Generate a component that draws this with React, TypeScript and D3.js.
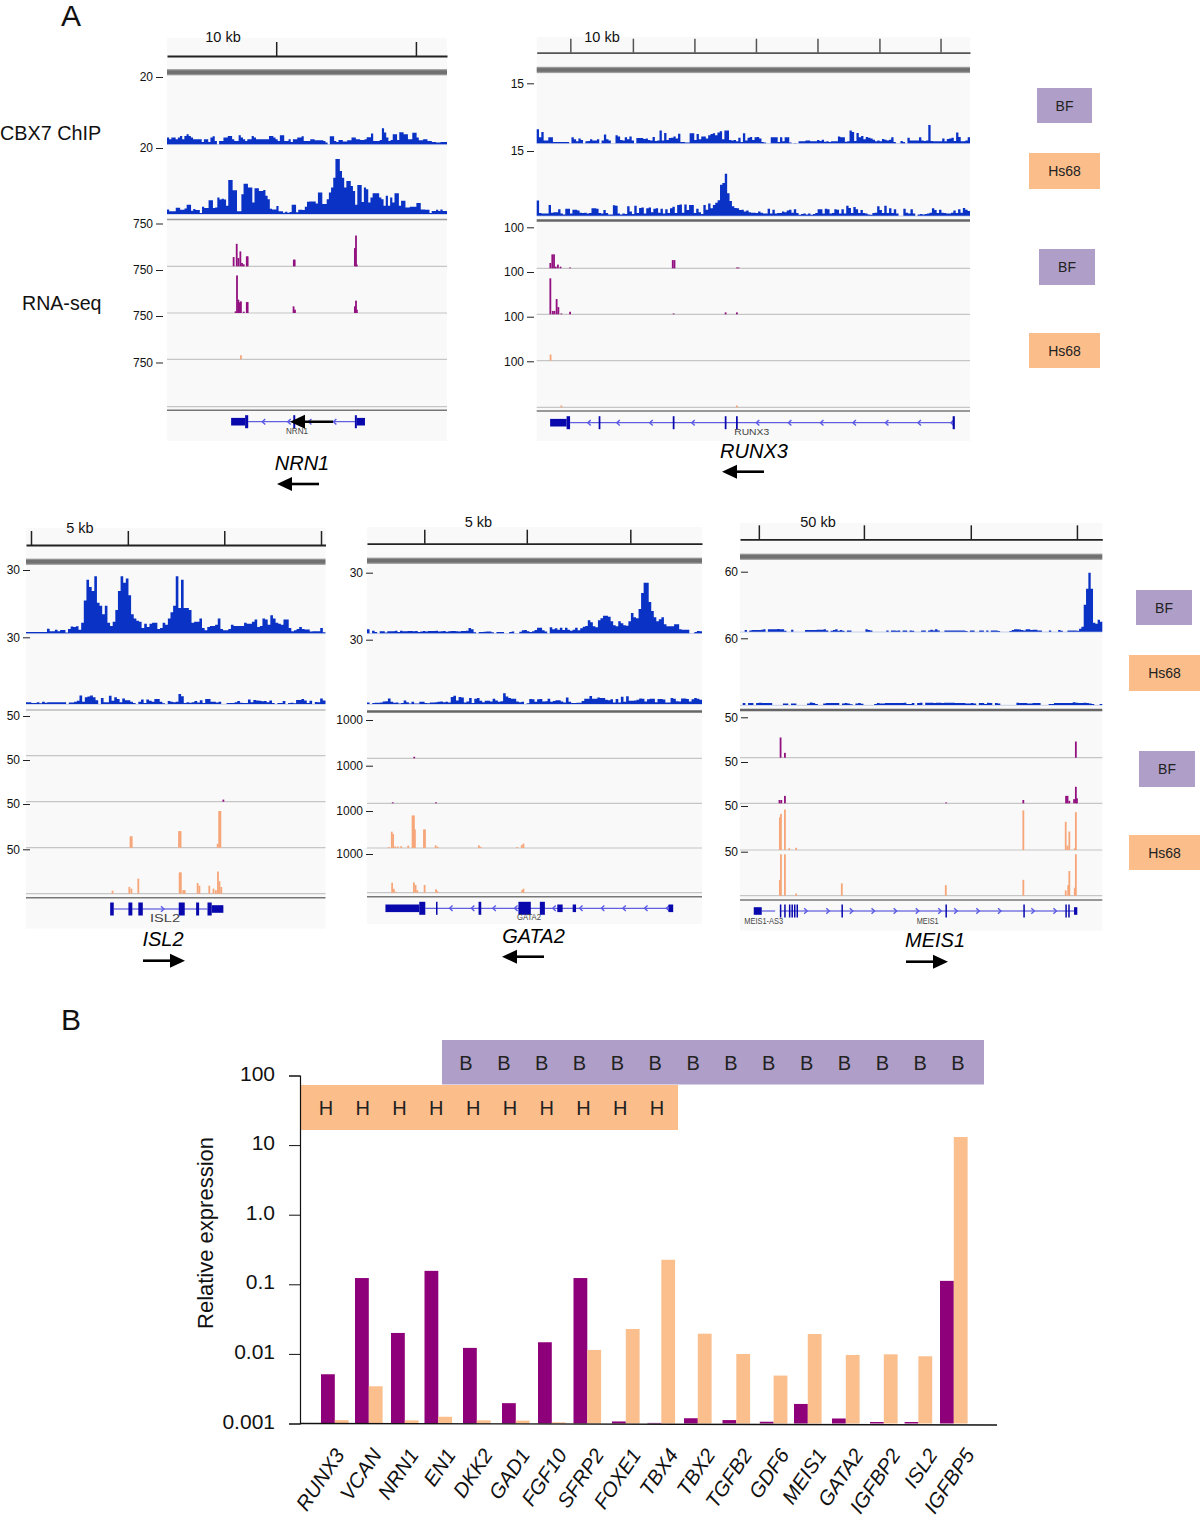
import React, { useEffect, useRef } from 'react';
import * as d3 from 'd3';

const FONT = '"Liberation Sans", Arial, sans-serif';
const BLUE = '#0a33c6';
const PURPLE = '#92107f';
const ORANGE = '#f6a679';
const GENE = '#0808ac';
const CHEVRON = '#5a5ae8';
const BOX_PURPLE = '#af9fc8';
const BOX_ORANGE = '#fbbd8a';

// ---- ChIP coverage, one value per bin ----
const nrn1Bf = [2, 1.5, 2, 2, 1.5, 2, 2.5, 1.5, 2.5, 3, 2.5, 2, 1.5, 1.5, 1.5, 1.5, 0.7, 1.5, 1.5, 0.7, 2, 2.4, 1, 0, 1, 1, 2, 2, 2.5, 2.5, 1.5, 1, 1, 2.7, 2, 1.5, 1, 1.5, 1.5, 2.5, 2, 1.5, 1.5, 1.5, 1.5, 1.5, 1.5, 2.5, 2.5, 2, 1.5, 1, 2.7, 2.7, 1, 1, 1.5, 0.7, 1.5, 1.5, 2, 2, 2.4, 1, 1, 1, 1.5, 1.5, 1.2, 1.2, 1.2, 1.2, 1, 0.5, 0, 2.4, 2.4, 1, 0.7, 1.3, 1.3, 0.8, 0.8, 1.2, 1.2, 2, 2, 1.5, 1.5, 1.3, 1.3, 1.5, 2.1, 2.1, 3.2, 1, 1, 1, 1.3, 4.8, 3.5, 2, 1, 1.3, 3, 3, 1.3, 3.6, 3.6, 3, 3, 1.5, 1.5, 3.4, 3.4, 2, 1.2, 1.2, 1.5, 1.5, 1, 1, 0.7, 0.7, 0.5, 0.5, 0.7, 0.7, 0.7];
const nrn1Hs = [1.4, 0.8, 0.8, 0.8, 1.9, 1.9, 1.3, 1.3, 1.7, 2.8, 2.8, 1, 1.5, 1.2, 1.2, 0.3, 2.2, 1.8, 1.8, 4.2, 4.2, 1.8, 2, 5, 4.4, 4.6, 4.4, 2.5, 10.3, 10.3, 7.2, 7.2, 0.8, 0.8, 6, 9.2, 9.2, 8, 8, 3.5, 7.8, 7.8, 7, 7, 7.3, 5.5, 4.5, 1.6, 1.4, 1.4, 2.4, 0.8, 0.8, 0.4, 0.7, 0.4, 0.6, 2.8, 2.8, 0.5, 1.3, 1.3, 1.2, 2.2, 3.7, 3.8, 3.8, 3.8, 3.2, 6.5, 6.5, 3, 3, 4.5, 6.5, 8, 11, 16.7, 16.7, 13, 11, 8, 10, 10, 8.5, 7, 2.8, 8.8, 8.8, 3.6, 8, 7.5, 3.5, 5, 6.3, 6.3, 6.3, 5, 4.5, 2.5, 5.5, 2.5, 5, 3.5, 6.3, 6.3, 2.5, 4, 4, 2, 2, 2.2, 2.2, 2.2, 3.3, 3.3, 1.4, 1.4, 1.3, 1.3, 0.3, 0.9, 0.9, 1.3, 0.9, 1.4, 0.9, 0.9];
const runx3Bf = [3.5, 1.5, 2.8, 0.7, 0.7, 1.5, 1.5, 0.3, 0.3, 0.3, 0.3, 0.3, 0.3, 0.3, 0, 1.5, 1, 0.5, 1.2, 0.8, 0, 0.5, 0.6, 1, 0.7, 0.7, 1, 0, 0.7, 2.2, 1, 0.7, 0, 0, 2, 1.7, 0.8, 0.7, 1.5, 1, 1.7, 0.7, 0, 1.3, 1.3, 1.3, 1.1, 1.2, 0.8, 0.7, 1.6, 0.6, 0.7, 3.2, 0.7, 2.6, 0.8, 1.3, 1.4, 1.7, 1.2, 2.4, 0.3, 0.3, 0.2, 0.2, 2.5, 2.5, 0.8, 2.3, 1, 1.7, 1.7, 1.2, 2, 2.3, 2.5, 2, 2.7, 3, 1, 3.2, 3.2, 0.8, 0.7, 0.8, 0.5, 1.4, 0.3, 2.5, 0.7, 1.4, 1.6, 0.8, 1.5, 1.6, 1.2, 0.3, 0.2, 0, 0, 1.5, 1.5, 1.5, 0.3, 1.5, 0.5, 1.5, 1.5, 0.2, 0, 0.1, 0, 0.5, 0.5, 0.5, 0.7, 0.7, 0.5, 0.5, 0.5, 0.8, 0.6, 0.9, 0.4, 0.5, 0.3, 0.5, 0.5, 0.5, 1.7, 1.5, 1.5, 0.4, 0.5, 3.2, 2.8, 0.6, 2.6, 1.5, 1.8, 1, 1.6, 1.4, 1.2, 0.9, 0.5, 0.7, 0.5, 1.1, 0.9, 0.7, 0.9, 1.5, 0.3, 0, 0, 0.6, 0.3, 0, 1.4, 0.7, 0.7, 0.7, 0.7, 1.5, 0.7, 0.6, 0.7, 4.6, 0.6, 0.5, 0.5, 0.5, 0.5, 1.2, 0.5, 1.1, 1.2, 1.4, 0.6, 2.7, 1.6, 0.5, 0.5, 0.7, 1.5];
const runx3Hs = [3.5, 0.6, 0.5, 0.5, 0.5, 2.5, 0.7, 0.8, 0.8, 1.5, 0.5, 0.3, 1.6, 1.6, 0.5, 1.4, 1.4, 1.2, 0.7, 0.6, 0.7, 0.5, 0.6, 1.7, 1.7, 1.6, 0.6, 0.5, 1.3, 0.6, 0.3, 0.3, 2.4, 2.3, 0.5, 0.3, 0.5, 0.4, 2.2, 1, 0.4, 2.3, 0.6, 1.8, 1.9, 0.5, 1.7, 1.9, 0.8, 1.6, 1.7, 0.7, 1.6, 0.5, 1.5, 0.6, 1.7, 2.1, 0.6, 2.5, 2.6, 0.7, 2.6, 1.3, 2.5, 2.5, 0.6, 1.6, 0.8, 0.4, 2.5, 1.4, 2.8, 1.7, 2.5, 3, 3.6, 7.2, 7.6, 9.7, 5.2, 3.4, 2.2, 1.8, 1.7, 1.3, 1.4, 1, 1.2, 0.8, 0.7, 0.7, 0.6, 1, 0.7, 0.5, 0.5, 1.6, 0.5, 1.4, 0.5, 0.6, 0.6, 1, 0.8, 1.2, 1.4, 0.7, 1.5, 0.6, 0.2, 0.4, 0.5, 0.3, 0.5, 0.2, 0.4, 0.6, 1.5, 1.5, 0.5, 1.6, 1.5, 0.5, 0.6, 1.5, 1.4, 0.5, 1.5, 0.5, 2.3, 1.8, 0.6, 2, 1.5, 0.6, 1.3, 0.6, 0.5, 0.3, 0.2, 0.6, 0.7, 2.2, 1.3, 0.6, 2.3, 0.6, 1.7, 0.6, 1.5, 0.5, 0, 0, 1.6, 0.7, 0.5, 1.5, 0.5, 0, 0.3, 0.4, 0.3, 0.4, 0.5, 0.7, 1.7, 1.3, 0.6, 1.4, 0.7, 0.6, 0.5, 0.5, 0.7, 1.2, 0.6, 1.5, 0.7, 1.8, 1.4, 1.1];
const isl2Bf = [0.6, 0.6, 0.6, 0.6, 0.6, 0.6, 0.6, 0.6, 2.2, 1, 1, 1.7, 1, 1.6, 1.6, 0.4, 2, 3.2, 3, 3.3, 1.7, 5, 15.5, 25.4, 22, 20, 27, 14.5, 13, 9, 13, 5, 3.5, 5.5, 11, 20, 27, 24, 26, 18, 9, 7, 6, 5.5, 2.5, 4.5, 3, 4.5, 5, 5, 2, 2.5, 5, 4, 7, 10, 13, 27, 12, 25.4, 12, 12, 11, 5, 5.5, 5.5, 7, 2.5, 1.5, 3, 3.5, 3.5, 4, 7, 2, 1.5, 1.5, 2, 4, 3.5, 3.5, 3.5, 3.5, 5, 4.5, 4.5, 5.5, 6.5, 3, 3.5, 7, 6.5, 4, 8.5, 7, 5, 4.5, 4, 6.5, 6.5, 2.5, 1, 1.5, 2, 3, 2, 1.8, 1.8, 0.8, 1, 1, 1, 2.5, 0.5];
const isl2Hs = [0.8, 0.8, 0.5, 0.5, 0.8, 0.3, 1, 0.6, 0.8, 0.8, 0.8, 0.8, 0.8, 0.8, 0.8, 0, 0.7, 0.7, 1, 1.5, 3.8, 1, 3, 3.4, 3.8, 3, 1.7, 0, 2.7, 0.8, 0.8, 3.7, 1.5, 3, 2.3, 0.8, 2.5, 1.7, 1.7, 1, 0.5, 0, 1, 2, 0.5, 2, 1.5, 1, 2.3, 2.3, 1, 0.3, 0, 1.3, 1, 0.8, 1, 4.5, 3.5, 0.5, 0.8, 0.6, 0.8, 1.3, 0.7, 1.7, 0.5, 2.3, 2.3, 1, 1, 0.7, 1, 0, 0, 0.4, 0.5, 0.5, 0.8, 1.3, 0.6, 0.4, 0.4, 2, 0.8, 1.8, 1.6, 1.5, 1.2, 1.4, 0.8, 1.6, 0.5, 0, 0.5, 0.5, 1.3, 0, 0.4, 0.6, 0.3, 1.8, 1.8, 2.2, 1.6, 0.5, 1.5, 0, 0.9, 0.8, 2.5, 1.6];
const gata2Bf = [2, 0, 1.3, 0.7, 0, 1, 1, 0.4, 1, 1, 1, 1.3, 0.7, 1.3, 1, 1, 1.2, 1.2, 1, 1.2, 0.7, 0.9, 1.1, 0.9, 1.1, 1.1, 1.2, 1.3, 0.9, 1, 1.1, 0.8, 1, 1.2, 1.2, 1, 0.9, 1.1, 1.2, 1.3, 2.6, 2, 0.5, 0, 0.7, 0.7, 0.8, 0.9, 0.9, 0.5, 0, 0.7, 0.7, 0.7, 0, 0, 0.7, 0.9, 0, 0, 0.8, 1.5, 1.6, 1, 0.7, 1, 1.6, 2.7, 2.7, 1.5, 0.9, 0, 3, 2, 2.5, 1.8, 2.8, 1.6, 2.8, 1.7, 1.3, 1.7, 2.8, 1.5, 2.5, 3.3, 3.6, 6.5, 5.5, 3.5, 3, 6.5, 7.5, 8.7, 8.7, 8.2, 6, 4, 3.5, 6, 5, 4, 3.7, 6, 10, 8, 7.5, 12, 20, 25, 25, 15.5, 11, 8, 6, 7, 8, 4.5, 3.5, 3.5, 3.5, 4.5, 4.5, 2, 1.8, 1.8, 1.8, 0, 0, 0.7, 1.2, 1];
const gata2Hs = [0.7, 0, 0.5, 0.6, 0.6, 0.7, 1.2, 1.3, 2.6, 1, 0.6, 0.7, 0.2, 0.5, 1.6, 0.8, 0.2, 1, 0.2, 0.2, 1, 1, 0.5, 0.3, 0.7, 0.7, 0.8, 1, 1.2, 0.8, 1, 0.7, 3.3, 3.8, 1.6, 3.3, 3, 0.7, 1.2, 2.8, 0.5, 2.5, 2.8, 1.5, 0.8, 1.5, 1.5, 1.2, 2.5, 1.6, 1, 1.3, 5, 3.5, 2.8, 2.5, 2.5, 1.2, 0.8, 1, 0, 0.4, 2.3, 2.2, 1, 2.2, 2.3, 1.2, 1.3, 2.5, 1, 1.4, 1.8, 1.8, 1.2, 0.7, 3, 1, 0.5, 0.5, 0.6, 0.6, 1.4, 2.5, 2.5, 3.7, 2.5, 2.5, 3, 2.8, 2.8, 2, 1.7, 2.2, 0.7, 2.3, 0.7, 3.4, 1, 3.6, 1.5, 1.5, 1.6, 2, 2.6, 2.5, 1.2, 2.2, 2.5, 2.5, 0.8, 2.3, 2.3, 2.1, 0.7, 0.7, 2.8, 2.5, 1.3, 1.2, 2.6, 2.6, 2.3, 1.2, 2.2, 2.8, 2.5, 2];
const meis1Bf = [0, 0, 1.7, 0, 1.3, 1.7, 1.7, 1.7, 1.7, 2, 2.5, 0, 2.5, 2.5, 2.5, 2.5, 2.8, 2.5, 2.5, 1, 0, 0, 2, 0, 0, 0, 0, 0, 1.7, 1.7, 1.7, 1.7, 1.7, 2, 2, 2, 2.5, 1.3, 0, 1, 1.7, 2.5, 1, 1.7, 1, 0, 1.3, 1.3, 0, 0, 0, 0, 0, 0, 2.5, 1.7, 1.3, 0, 0, 0, 0, 0, 0, 1.3, 0, 1.3, 1.3, 1, 1.3, 0, 1.3, 1.3, 0, 1.3, 1, 0, 0, 0, 1.3, 1.3, 0, 1.3, 2, 1.3, 2.5, 1.3, 0, 0, 1.3, 1.3, 1.3, 1.3, 1.3, 1.3, 1.3, 1.3, 1.3, 0.7, 0, 1.3, 1.3, 0, 0, 1.3, 1.3, 0, 1.3, 0, 1.3, 1.3, 1.3, 0.7, 0, 0, 0, 0, 0.7, 1.7, 2.5, 2.5, 2.2, 1.7, 1.3, 2.5, 2.5, 1.7, 2, 2, 1.3, 1.3, 0, 0, 0, 1.3, 0, 0, 0, 1.7, 1, 0, 0, 1.3, 1.3, 1.3, 1.3, 1, 3, 5, 27, 43, 59, 43, 9, 8, 12, 10];
const meis1Hs = [0, 1.7, 0, 1.7, 1.7, 0, 1.7, 2, 1.7, 1.7, 1.7, 1.7, 0, 0, 0, 0, 1.3, 1.3, 0, 1.3, 1.3, 0, 0, 0, 0, 1.3, 2.2, 1.7, 1, 0, 0, 1.3, 1.7, 1.7, 1.7, 1.7, 1.7, 0, 1.3, 1.8, 1.3, 0.7, 0, 1.3, 1.7, 1.2, 0, 0, 0, 0, 1, 1.7, 1.3, 1.3, 1.7, 1.7, 1.7, 1.7, 1.8, 1.7, 1.7, 2, 1, 1, 1.7, 0, 1.7, 2, 0, 2, 2, 2, 1.7, 2, 2, 1.7, 2, 2, 2, 2, 1.7, 1.7, 1.7, 1.7, 1.3, 1.3, 1.7, 1.3, 0, 1.7, 1.7, 1, 2, 1.7, 0, 1.7, 1.3, 0, 0, 0, 0, 0, 0, 2, 1.7, 1.7, 1.7, 1.3, 1.3, 1.7, 1.7, 1.7, 0, 0, 0, 1, 1, 1.7, 1.7, 1.7, 1.7, 1.7, 1.8, 1.8, 2.5, 2, 1.7, 1.7, 2, 1.7, 1.3, 1, 0, 0, 1];

// ---- RNA-seq spikes: [position in % of the window, signal] ----
const nrn1RnaBf1 = [[23.8, 162], [24.9, 394], [25.5, 145], [26.2, 261], [26.8, 58], [27.4, 35], [28.5, 174], [28.8, 174], [45.3, 116], [45.6, 116], [67.1, 319], [67.5, 539], [67.8, 29]];
const nrn1RnaBf2 = [[24.5, 29], [25, 655], [25.5, 232], [26, 186], [26.4, 203], [27.4, 23], [28.5, 191], [28.8, 191], [45.2, 116], [45.7, 58], [67.1, 116], [67.5, 215], [67.8, 58]];
const nrn1RnaHs1 = [[26.4, 70]];
const nrn1RnaHs2: number[][] = [];
const runx3RnaBf1 = [[3.15, 13], [3.6, 34], [4, 34], [4.4, 4], [4.9, 9], [5.5, 4], [7.7, 2], [31.4, 20], [31.8, 20], [46.2, 2], [46.6, 2]];
const runx3RnaBf2 = [[3.15, 85], [3.7, 8], [4.1, 8], [4.6, 36], [5, 17], [5.7, 2], [7.7, 6], [31.6, 2], [43.6, 4.5], [46.2, 4.5]];
const runx3RnaHs1 = [[3.2, 14]];
const runx3RnaHs2 = [[5.7, 4], [46.2, 4]];
const isl2RnaBf1: number[][] = [];
const isl2RnaBf2 = [[65.9, 2.5]];
const isl2RnaHs1 = [[34.9, 13], [35.3, 13], [51.1, 19], [51.6, 19], [64, 4.5], [64.5, 42], [64.9, 42]];
const isl2RnaHs2 = [[28.9, 3.4], [34.5, 7.6], [35.2, 5.7], [37.5, 17], [51.3, 24], [51.7, 24], [52.5, 4], [53, 4], [57.3, 12], [57.9, 9], [61.2, 9], [62.6, 5.7], [63.4, 4], [64.1, 25], [64.6, 14], [65.2, 7.6]];
const gata2RnaBf1 = [[14.1, 40]];
const gata2RnaBf2 = [[7.7, 25], [20.6, 25]];
const gata2RnaHs1 = [[6.5, 24], [7.4, 440], [7.8, 380], [8.4, 40], [9.2, 40], [10.2, 48], [12.3, 64], [13.6, 880], [14, 880], [14.3, 500], [17, 500], [17.3, 500], [20.5, 72], [21.1, 32], [33.4, 72], [33.9, 32], [44.8, 24], [46.2, 80], [46.7, 120]];
const gata2RnaHs2 = [[7.5, 256], [8, 100], [8.6, 24], [14, 264], [14.5, 200], [15, 64], [17.2, 200], [20.6, 88], [21, 40], [46.3, 64], [46.7, 104]];
const meis1RnaBf1 = [[11.2, 25], [12.4, 6], [92.7, 20]];
const meis1RnaBf2 = [[10.9, 4], [11.4, 4], [12.4, 9], [56.9, 1], [78.2, 4], [90, 9], [90.4, 9], [90.9, 3], [92.2, 5], [92.7, 20], [93, 6]];
const meis1RnaHs1 = [[11, 37], [11.3, 41], [12.4, 46], [13.6, 2], [15.5, 2.5], [78.2, 45], [89.9, 32], [90.4, 5], [90.9, 21], [92.4, 2], [92.7, 43]];
const meis1RnaHs2 = [[11, 18], [11.3, 47], [12.4, 47], [15.5, 2.5], [28.1, 14], [56.8, 12], [78.2, 18], [89.9, 6], [90.6, 12], [90.9, 28], [92.4, 9], [92.7, 47]];

// ---- gene models: exons [start %, end %, tall?], introns [start %, end %], chevrons % ----
const nrn1Exons = [[22.9, 27.9, 0], [27.9, 29, 1], [45.1, 45.8, 1], [67.1, 67.8, 1], [67.8, 70.7, 0]];
const nrn1Introns = [[29, 67.1]];
const nrn1Chevrons = [34.2, 43.3, 50.7, 59.6];
const runx3Exons = [[3.1, 6.9, 0], [6.9, 7.7, 1], [14.3, 14.7, 1], [31.4, 31.8, 1], [43.4, 43.8, 1], [46, 46.4, 1], [96, 96.5, 1]];
const runx3Introns = [[7.7, 96]];
const runx3Chevrons = [11.9, 18.6, 26.2, 35.9, 50.8, 58.2, 65.6, 73.1, 80.6, 88.1, 95.7];
const isl2Exons = [[28.1, 29.3, 1], [34.2, 35.5, 1], [37.5, 39, 1], [51, 53, 1], [56.8, 57.8, 1], [60.6, 62, 1], [62, 65.9, 0]];
const isl2Introns = [[29.3, 60.6]];
const isl2Chevrons = [45.9];
const gata2Exons = [[5.5, 15.6, 0], [15.6, 17.4, 1], [20.6, 21, 1], [33.3, 34.1, 1], [45.2, 48.9, 1], [51.6, 53.1, 1], [56.8, 58.4, 0], [61.4, 62.4, 0], [90, 91.4, 0]];
const gata2Introns = [[17.4, 90]];
const gata2Chevrons = [24.8, 31.3, 37.7, 44.2, 55.6, 63.6, 70.1, 76.5, 83, 89.5];
const meis1Exons = [[3.8, 6, 0], [11, 11.4, 1], [12.2, 12.6, 1], [13.5, 13.9, 1], [14.2, 14.6, 1], [14.9, 15.2, 1], [15.6, 15.9, 1], [28, 28.4, 1], [56.7, 57.1, 1], [78.2, 78.6, 1], [89.8, 90.2, 1], [90.6, 91, 1], [92.2, 93.1, 0]];
const meis1Introns = [[6, 9.7], [11, 92.2]];
const meis1Chevrons = [18.4, 24.5, 31, 37, 43.1, 49.2, 55.4, 59.8, 65.9, 71.9, 81.1, 87.2];

// ---- ruler ticks, % of window ----
const nrn1Ruler = [39, 88.9];
const runx3Ruler = [7.76, 22.2, 36.4, 50.6, 64.8, 79.1, 93.2];
const isl2Ruler = [1.67, 34, 66.2, 98.5];
const gata2Ruler = [17.1, 47.7, 78.6];
const meis1Ruler = [5.2, 34.2, 63.7, 93];

// ---- panel B ----
const genes = ['RUNX3', 'VCAN', 'NRN1', 'EN1', 'DKK2', 'GAD1', 'FGF10', 'SFRP2', 'FOXE1', 'TBX4', 'TBX2', 'TGFB2', 'GDF6', 'MEIS1', 'GATA2', 'IGFBP2', 'ISL2', 'IGFBP5'];
const bfExpression = [0.0051, 0.123, 0.02, 0.156, 0.0122, 0.00196, 0.0147, 0.123, 0.00107, 0.00102, 0.00119, 0.00112, 0.00106, 0.00191, 0.00118, 0.00105, 0.00105, 0.112];
const hsExpression = [0.00112, 0.00343, 0.00111, 0.00125, 0.00111, 0.0011, 0.00104, 0.0114, 0.0228, 0.225, 0.0195, 0.00998, 0.00488, 0.0193, 0.00966, 0.00986, 0.00925, 13.06];
const yTicks = [0.001, 0.01, 0.1, 1, 10, 100];
const yTickLabels = ['0.001', '0.01', '0.1', '1.0', '10', '100'];
const hLetters = d3.range(10).map(() => 'H');
const bLetters = d3.range(14).map(() => 'B');

const sideBoxes = [
  ['BF', 1037, 88, 55, 35], ['Hs68', 1029, 153, 71, 36], ['BF', 1039, 249, 56, 36], ['Hs68', 1029, 333, 71, 35],
  ['BF', 1136, 590, 56, 35], ['Hs68', 1129, 655, 71, 36], ['BF', 1139, 751, 56, 36], ['Hs68', 1129, 835, 71, 35],
] as [string, number, number, number, number][];

interface Panel {
  x0: number; x1: number; axisX: number; bgTop: number; bgBottom: number;
  rulerY: number; rulerTicks: number[]; rulerColor: string; kb: string; kbX: number; kbY: number;
  barY: number;
  chip: { bins: number[]; max: number; top: number; base: number }[];
  sepY: number; sepColor: string; sepW: number;
  rna: { spikes: number[][]; color: string; top: number; base: number }[];
  rnaMax: number;
  rnaEndY: number;
  gene: { y: number; exons: number[][]; introns: number[][]; chevrons: number[]; dir: number };
  geneLabels: [string, number, number, number][];
  labelFont: number;
  title: string; titleX: number; titleY: number;
  arrows: [number, number, number][];
}

const panels: Panel[] = [
  {
    x0: 167, x1: 447, axisX: 163, bgTop: 38, bgBottom: 441, rulerY: 56, rulerTicks: nrn1Ruler, rulerColor: '#222', kb: '10 kb', kbX: 223, kbY: 42, barY: 69,
    chip: [{ bins: nrn1Bf, max: 20, top: 77, base: 144.3 }, { bins: nrn1Hs, max: 20, top: 148, base: 214 }],
    sepY: 219.5, sepColor: '#999', sepW: 1.5,
    rna: [
      { spikes: nrn1RnaBf1, color: PURPLE, top: 223.5, base: 266.3 },
      { spikes: nrn1RnaBf2, color: PURPLE, top: 270, base: 313 },
      { spikes: nrn1RnaHs1, color: ORANGE, top: 316, base: 359.3 },
      { spikes: nrn1RnaHs2, color: ORANGE, top: 362.5, base: 406.7 },
    ],
    rnaMax: 750, rnaEndY: 410.3,
    gene: { y: 421.7, exons: nrn1Exons, introns: nrn1Introns, chevrons: nrn1Chevrons, dir: -1 },
    geneLabels: [['NRN1', 297, 434, 22]], labelFont: 9, title: 'NRN1', titleX: 302, titleY: 470,
    arrows: [[333, 290, 421.7], [319, 277, 484]],
  },
  {
    x0: 536.7, x1: 970, axisX: 534, bgTop: 37, bgBottom: 441, rulerY: 52.7, rulerTicks: runx3Ruler, rulerColor: '#555', kb: '10 kb', kbX: 602, kbY: 42, barY: 66.7,
    chip: [{ bins: runx3Bf, max: 15, top: 83.3, base: 143.3 }, { bins: runx3Hs, max: 15, top: 151, base: 215.7 }],
    sepY: 220.5, sepColor: '#666', sepW: 2.5,
    rna: [
      { spikes: runx3RnaBf1, color: PURPLE, top: 227.3, base: 268.3 },
      { spikes: runx3RnaBf2, color: PURPLE, top: 272, base: 314.3 },
      { spikes: runx3RnaHs1, color: ORANGE, top: 316.7, base: 360.7 },
      { spikes: runx3RnaHs2, color: ORANGE, top: 361.3, base: 407.3 },
    ],
    rnaMax: 100, rnaEndY: 411,
    gene: { y: 422.7, exons: runx3Exons, introns: runx3Introns, chevrons: runx3Chevrons, dir: -1 },
    geneLabels: [['RUNX3', 751.7, 435, 35]], labelFont: 9.5, title: 'RUNX3', titleX: 754, titleY: 458,
    arrows: [[764, 722, 471.7]],
  },
  {
    x0: 26, x1: 325.5, axisX: 30, bgTop: 528, bgBottom: 928.7, rulerY: 545, rulerTicks: isl2Ruler, rulerColor: '#222', kb: '5 kb', kbX: 80, kbY: 533, barY: 558.5,
    chip: [{ bins: isl2Bf, max: 30, top: 570, base: 633.3 }, { bins: isl2Hs, max: 30, top: 637.3, base: 704 }],
    sepY: 710, sepColor: '#bbb', sepW: 1.5,
    rna: [
      { spikes: isl2RnaBf1, color: PURPLE, top: 716, base: 755.7 },
      { spikes: isl2RnaBf2, color: PURPLE, top: 760, base: 801.7 },
      { spikes: isl2RnaHs1, color: ORANGE, top: 804, base: 847.7 },
      { spikes: isl2RnaHs2, color: ORANGE, top: 849.3, base: 893.7 },
    ],
    rnaMax: 50, rnaEndY: 897.7,
    gene: { y: 909, exons: isl2Exons, introns: isl2Introns, chevrons: isl2Chevrons, dir: 1 },
    geneLabels: [['ISL2', 165, 922, 30]], labelFont: 10, title: 'ISL2', titleX: 163, titleY: 946,
    arrows: [[143, 185, 960.7]],
  },
  {
    x0: 367, x1: 702, axisX: 373, bgTop: 527, bgBottom: 924, rulerY: 543.7, rulerTicks: gata2Ruler, rulerColor: '#222', kb: '5 kb', kbX: 478.5, kbY: 527, barY: 557.5,
    chip: [{ bins: gata2Bf, max: 30, top: 572.7, base: 633.3 }, { bins: gata2Hs, max: 30, top: 639.7, base: 704 }],
    sepY: 711.5, sepColor: '#666', sepW: 2.5,
    rna: [
      { spikes: gata2RnaBf1, color: PURPLE, top: 720, base: 758.3 },
      { spikes: gata2RnaBf2, color: PURPLE, top: 765.7, base: 803.3 },
      { spikes: gata2RnaHs1, color: ORANGE, top: 811, base: 848 },
      { spikes: gata2RnaHs2, color: ORANGE, top: 854, base: 892.7 },
    ],
    rnaMax: 1000, rnaEndY: 896.7,
    gene: { y: 908.3, exons: gata2Exons, introns: gata2Introns, chevrons: gata2Chevrons, dir: -1 },
    geneLabels: [['GATA2', 529, 920.3, 24]], labelFont: 8.5, title: 'GATA2', titleX: 533.5, titleY: 943,
    arrows: [[544, 502, 956.7]],
  },
  {
    x0: 740, x1: 1102.3, axisX: 748, bgTop: 523, bgBottom: 930.7, rulerY: 539.3, rulerTicks: meis1Ruler, rulerColor: '#222', kb: '50 kb', kbX: 818, kbY: 527, barY: 553.5,
    chip: [{ bins: meis1Bf, max: 60, top: 571.7, base: 631.7 }, { bins: meis1Hs, max: 60, top: 638.3, base: 705 }],
    sepY: 710, sepColor: '#666', sepW: 2.5,
    rna: [
      { spikes: meis1RnaBf1, color: PURPLE, top: 717.3, base: 757.7 },
      { spikes: meis1RnaBf2, color: PURPLE, top: 762, base: 803.3 },
      { spikes: meis1RnaHs1, color: ORANGE, top: 806, base: 850 },
      { spikes: meis1RnaHs2, color: ORANGE, top: 851.7, base: 895.7 },
    ],
    rnaMax: 50, rnaEndY: 900,
    gene: { y: 911, exons: meis1Exons, introns: meis1Introns, chevrons: meis1Chevrons, dir: 1 },
    geneLabels: [['MEIS1-AS3', 763.7, 924, 39], ['MEIS1', 927.7, 924, 22]], labelFont: 9, title: 'MEIS1', titleX: 935, titleY: 947,
    arrows: [[906, 948, 961.7]],
  },
];

type Sel = d3.Selection<SVGGElement, unknown, null, undefined>;

function styleAxis(g: Sel, size: number) {
  g.select('.domain').remove();
  g.selectAll('text').attr('font-family', FONT).attr('font-size', size).attr('fill', '#111');
  g.selectAll('line').attr('stroke', '#222');
}

function drawArrow(g: Sel, [from, to, y]: [number, number, number]) {
  const dir = to > from ? 1 : -1;
  g.append('line').attr('x1', from).attr('x2', to - dir * 10).attr('y1', y).attr('y2', y)
    .attr('stroke', '#000').attr('stroke-width', 2.6);
  g.append('path').attr('d', `M${to},${y}L${to - dir * 15},${y - 7}L${to - dir * 15},${y + 7}Z`).attr('fill', '#000');
}

function drawPanel(root: Sel, p: Panel) {
  const g = root.append('g');
  const x = d3.scaleLinear().domain([0, 100]).range([p.x0, p.x1]);

  g.append('rect').attr('x', p.x0).attr('y', p.bgTop).attr('width', p.x1 - p.x0).attr('height', p.bgBottom - p.bgTop).attr('fill', '#f9f9f9');
  const ruler = g.append('g').attr('transform', `translate(0,${p.rulerY})`)
    .call(d3.axisTop(x).tickValues(p.rulerTicks).tickSize(14).tickSizeOuter(0).tickFormat(() => ''));
  ruler.selectAll('path,line').attr('stroke', p.rulerColor).attr('stroke-width', 1.5);
  ruler.select('.domain').attr('stroke-width', 1.8);
  g.append('text').attr('x', p.kbX).attr('y', p.kbY).attr('text-anchor', 'middle').attr('font-family', FONT).attr('font-size', 14.5).attr('fill', '#111').text(p.kb);

  g.append('rect').attr('x', p.x0).attr('y', p.barY).attr('width', p.x1 - p.x0).attr('height', 6.5).attr('fill', 'url(#barGrad)');

  // ChIP coverage
  p.chip.forEach((t) => {
    const bx = d3.scaleLinear().domain([0, t.bins.length]).range([p.x0, p.x1]);
    const by = d3.scaleLinear().domain([0, t.max]).range([t.base, t.top]);
    const area = d3.area<number>().x((_, i) => bx(i)).y0(t.base).y1((d) => by(d)).curve(d3.curveStepAfter);
    g.append('line').attr('x1', p.x0).attr('x2', p.x1).attr('y1', t.base + 0.3).attr('y2', t.base + 0.3).attr('stroke', '#c8cfe6').attr('stroke-width', 1);
    g.append('path').attr('d', area([...t.bins, t.bins[t.bins.length - 1]])).attr('fill', BLUE);
    const axis = g.append('g').attr('transform', `translate(${p.axisX},0)`)
      .call(d3.axisLeft(by).tickValues([t.max]).tickSize(7).tickPadding(3).tickFormat(d3.format('d')));
    styleAxis(axis, 12);
  });

  g.append('line').attr('x1', p.x0).attr('x2', p.x1).attr('y1', p.sepY).attr('y2', p.sepY).attr('stroke', p.sepColor).attr('stroke-width', p.sepW);

  // RNA-seq
  p.rna.forEach((t) => {
    const ry = d3.scaleLinear().domain([0, p.rnaMax]).range([t.base, t.top]);
    g.append('line').attr('x1', p.x0).attr('x2', p.x1).attr('y1', t.base).attr('y2', t.base).attr('stroke', '#c6c6c6').attr('stroke-width', 1.2);
    g.append('g').selectAll('rect').data(t.spikes).join('rect')
      .attr('x', (d) => x(d[0]) - 0.9).attr('width', 1.8)
      .attr('y', (d) => ry(d[1])).attr('height', (d) => t.base - ry(d[1]))
      .attr('fill', t.color);
    const axis = g.append('g').attr('transform', `translate(${p.axisX},0)`)
      .call(d3.axisLeft(ry).tickValues([p.rnaMax]).tickSize(7).tickPadding(3).tickFormat(d3.format('d')));
    styleAxis(axis, 12);
  });
  g.append('line').attr('x1', p.x0).attr('x2', p.x1).attr('y1', p.rnaEndY).attr('y2', p.rnaEndY).attr('stroke', '#777').attr('stroke-width', 1.6);

  // gene model
  const gy = p.gene.y;
  g.append('g').selectAll('line').data(p.gene.introns).join('line')
    .attr('x1', (d) => x(d[0])).attr('x2', (d) => x(d[1])).attr('y1', gy).attr('y2', gy)
    .attr('stroke', '#3a3ad8').attr('stroke-width', 1);
  g.append('g').selectAll('path').data(p.gene.chevrons).join('path')
    .attr('d', (d) => {
      const c = x(d);
      const s = p.gene.dir * 2.5;
      return `M${c - s},${gy - 2.8}L${c + s * 0.2},${gy}L${c - s},${gy + 2.8}`;
    })
    .attr('fill', 'none').attr('stroke', CHEVRON).attr('stroke-width', 1.4);
  g.append('g').selectAll('rect').data(p.gene.exons).join('rect')
    .attr('x', (d) => x(d[0])).attr('width', (d) => Math.max(x(d[1]) - x(d[0]), 1.5))
    .attr('y', (d) => gy - (d[2] ? 6.5 : 3.8)).attr('height', (d) => (d[2] ? 13 : 7.6))
    .attr('fill', GENE);
  p.geneLabels.forEach(([name, lx, ly, lw]) => {
    g.append('text').attr('x', lx).attr('y', ly).attr('text-anchor', 'middle').attr('font-family', FONT)
      .attr('font-size', p.labelFont).attr('fill', '#444')
      .attr('textLength', lw).attr('lengthAdjust', 'spacingAndGlyphs').text(name);
  });

  g.append('text').attr('x', p.titleX).attr('y', p.titleY).attr('text-anchor', 'middle').attr('font-family', FONT)
    .attr('font-style', 'italic').attr('font-size', 20).attr('fill', '#000').text(p.title);
  p.arrows.forEach((a) => drawArrow(g, a));
}

function drawExpression(root: Sel) {
  const g = root.append('g');
  const y = d3.scaleLog().domain([0.001, 100]).range([1423.5, 1075.5]);
  // the bar groups are not quite evenly spaced in the figure
  const barX = d3.scaleOrdinal<string, number>().domain(genes)
    .range([321, 355, 391, 424.5, 463, 502, 538, 573.5, 612, 647.5, 684, 722.5, 759.8, 794, 832, 870, 904.6, 940]);
  const w = 13.8;
  const labelX = d3.scalePoint().domain(genes).range([337, 967]);
  const hx = d3.scalePoint().domain(d3.range(10).map(String)).range([326, 657]);
  const bx = d3.scalePoint().domain(d3.range(14).map(String)).range([466, 958]);

  g.append('rect').attr('x', 442).attr('y', 1040).attr('width', 542).attr('height', 44.5).attr('fill', BOX_PURPLE);
  g.append('rect').attr('x', 300).attr('y', 1085).attr('width', 378).attr('height', 45).attr('fill', BOX_ORANGE);
  g.append('g').selectAll('text').data(bLetters).join('text')
    .attr('x', (_, i) => bx(String(i))!).attr('y', 1070).text((d) => d);
  g.append('g').selectAll('text').data(hLetters).join('text')
    .attr('x', (_, i) => hx(String(i))!).attr('y', 1115).text((d) => d);
  g.selectAll('g text').attr('text-anchor', 'middle').attr('font-family', FONT).attr('font-size', 20).attr('fill', '#222');

  g.append('g').selectAll('rect').data(genes).join('rect')
    .attr('x', (d) => barX(d)).attr('width', w)
    .attr('y', (_, i) => y(bfExpression[i])).attr('height', (_, i) => 1423.5 - y(bfExpression[i]))
    .attr('fill', '#8e0079');
  g.append('g').selectAll('rect').data(genes).join('rect')
    .attr('x', (d) => barX(d) + w).attr('width', w)
    .attr('y', (_, i) => y(hsExpression[i])).attr('height', (_, i) => 1423.5 - y(hsExpression[i]))
    .attr('fill', '#fbbf8e');

  const axis = g.append('g').attr('transform', 'translate(300,0)')
    .call(d3.axisLeft(y).tickValues(yTicks).tickSize(11).tickPadding(14).tickFormat((_, i) => yTickLabels[i]));
  axis.selectAll('path,line').attr('stroke', '#111');
  axis.selectAll('text').attr('font-family', FONT).attr('font-size', 21).attr('fill', '#111').attr('dy', '0.22em');
  axis.select('.domain').attr('stroke-width', 1.2);

  g.append('line').attr('x1', 300).attr('x2', 997).attr('y1', 1423.5).attr('y2', 1425).attr('stroke', '#111').attr('stroke-width', 1.3);

  g.append('g').selectAll('text').data(genes).join('text')
    .attr('transform', (d) => `translate(${labelX(d)},1449) rotate(-56)`)
    .attr('text-anchor', 'end').attr('dy', '0.5em').attr('font-family', FONT).attr('font-style', 'italic')
    .attr('font-size', 20.5).attr('fill', '#111').text((d) => d);

  g.append('text').attr('transform', 'translate(213,1233) rotate(-90)').attr('text-anchor', 'middle')
    .attr('font-family', FONT).attr('font-size', 22).attr('fill', '#111').text('Relative expression');
}

export default function App() {
  const ref = useRef<SVGSVGElement | null>(null);

  useEffect(() => {
    if (!ref.current) return;
    const svg = d3.select(ref.current);
    svg.selectAll('*').remove();

    const grad = svg.append('defs').append('linearGradient').attr('id', 'barGrad').attr('x1', 0).attr('x2', 0).attr('y1', 0).attr('y2', 1);
    grad.append('stop').attr('offset', '0%').attr('stop-color', '#b8b8b8');
    grad.append('stop').attr('offset', '30%').attr('stop-color', '#707070');
    grad.append('stop').attr('offset', '70%').attr('stop-color', '#707070');
    grad.append('stop').attr('offset', '100%').attr('stop-color', '#b8b8b8');

    const root = svg.append('g') as unknown as Sel;
    panels.forEach((p) => drawPanel(root, p));
    drawExpression(root);

    sideBoxes.forEach(([label, x, y, w, h]) => {
      root.append('rect').attr('x', x).attr('y', y).attr('width', w).attr('height', h).attr('fill', label === 'BF' ? BOX_PURPLE : BOX_ORANGE);
      root.append('text').attr('x', x + w / 2).attr('y', y + h / 2 + 5).attr('text-anchor', 'middle')
        .attr('font-family', FONT).attr('font-size', 14).attr('fill', '#222').text(label);
    });

    const texts: [string, number, number, number][] = [
      ['A', 61, 26, 30], ['B', 61, 1030, 30],
      ['CBX7 ChIP', 0, 140, 19.8], ['RNA-seq', 22, 310, 19.6],
    ];
    texts.forEach(([t, x, y, s]) => {
      root.append('text').attr('x', x).attr('y', y).attr('font-family', FONT).attr('font-size', s).attr('fill', '#111').text(t);
    });
  }, []);

  return <svg ref={ref} width={1200} height={1522} style={{ position: 'absolute', left: 0, top: 0, display: 'block', background: '#fff' }} />;
}
